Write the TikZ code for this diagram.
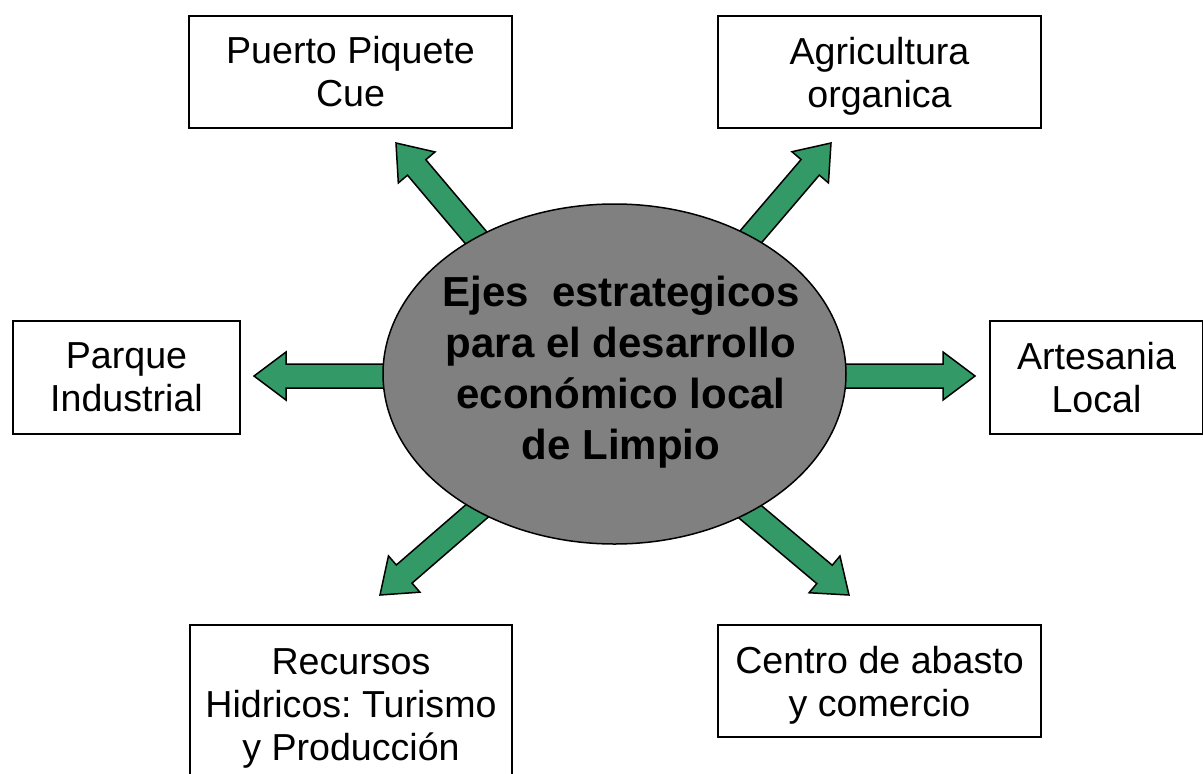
\documentclass[tikz,border=0pt]{standalone}
\usepackage{fontspec}
\setmainfont{Liberation Sans}
\usetikzlibrary{calc,shapes.geometric,backgrounds}
\definecolor{arrowgreen}{HTML}{339966}
\definecolor{hubgray}{HTML}{808080}
\newcommand\nodepth[1]{\raisebox{0pt}[\height][0pt]{#1}}
\newcommand\blkarrow[2]{%
  \coordinate (ahb) at ($(#2)!32pt!(#1)$);
  \filldraw[blockarrow] ($(#1)!12pt!90:(#2)$) -- ($(ahb)!12pt!90:(#2)$)
    -- ($(ahb)!24pt!90:(#2)$) -- (#2) -- ($(ahb)!24pt!-90:(#2)$)
    -- ($(ahb)!12pt!-90:(#2)$) -- ($(#1)!12pt!-90:(#2)$) -- cycle;}
\begin{document}
\frenchspacing
\begin{tikzpicture}[x=1pt,y=-1pt,
  box/.style={draw, line width=1.5pt, fill=white, align=center, inner sep=0pt,
    font=\fontsize{37.6}{43}\selectfont},
  hub/.style={ellipse, draw, line width=1.5pt, fill=hubgray, inner sep=0pt,
    minimum width=463pt, minimum height=340pt},
  hubtext/.style={align=center, inner sep=0pt, xshift=6.5pt, yshift=1.5pt,
    font=\fontsize{42}{51}\selectfont\bfseries},
  blockarrow/.style={fill=arrowgreen, draw=black, line width=1.5pt, line join=miter}]
\useasboundingbox (0,0) rectangle (1203,774);

% central ellipse
\node[hub, label={[hubtext]center:Ejes\ \ estrategicos\\para el desarrollo\\económico local\\de Limpio}] (hub) at (614.5,374) {};

% boxes
\node[box, minimum width=323pt, minimum height=112pt] (puerto) at (350.5,72) {Puerto Piquete\\Cue};
\node[box, minimum width=323pt, minimum height=112pt] (agri) at (879.5,72) {Agricultura\\\nodepth{organica}};
\node[box, minimum width=227pt, minimum height=113pt] (parque) at (126.5,377.5) {Parque\\Industrial};
\node[box, minimum width=213pt, minimum height=113pt] (arte) at (1096.5,377.5) {Artesania\\Local};
\node[box, minimum width=322pt, minimum height=166pt] (recursos) at (351,708) {Recursos\\Hidricos: Turismo\\y Producción};
\node[box, minimum width=323pt, minimum height=112pt] (centro) at (879.5,681) {Centro de abasto\\\nodepth{y comercio}};

% arrow start points (inside the ellipse) and tips
\coordinate (sUL) at (527,298);  \coordinate (tUL) at (396,143);
\coordinate (sUR) at (701,295);  \coordinate (tUR) at (831,143);
\coordinate (sL)  at (500,376);  \coordinate (tL)  at (254,376);
\coordinate (sR)  at (730,376);  \coordinate (tR)  at (975,376);
\coordinate (sLL) at (537,459);  \coordinate (tLL) at (380,595);
\coordinate (sLR) at (691,462);  \coordinate (tLR) at (849,595);

\begin{pgfonlayer}{background}
  \blkarrow{sUL}{tUL}
  \blkarrow{sUR}{tUR}
  \blkarrow{sL}{tL}
  \blkarrow{sR}{tR}
  \blkarrow{sLL}{tLL}
  \blkarrow{sLR}{tLR}
\end{pgfonlayer}
\end{tikzpicture}
\end{document}
